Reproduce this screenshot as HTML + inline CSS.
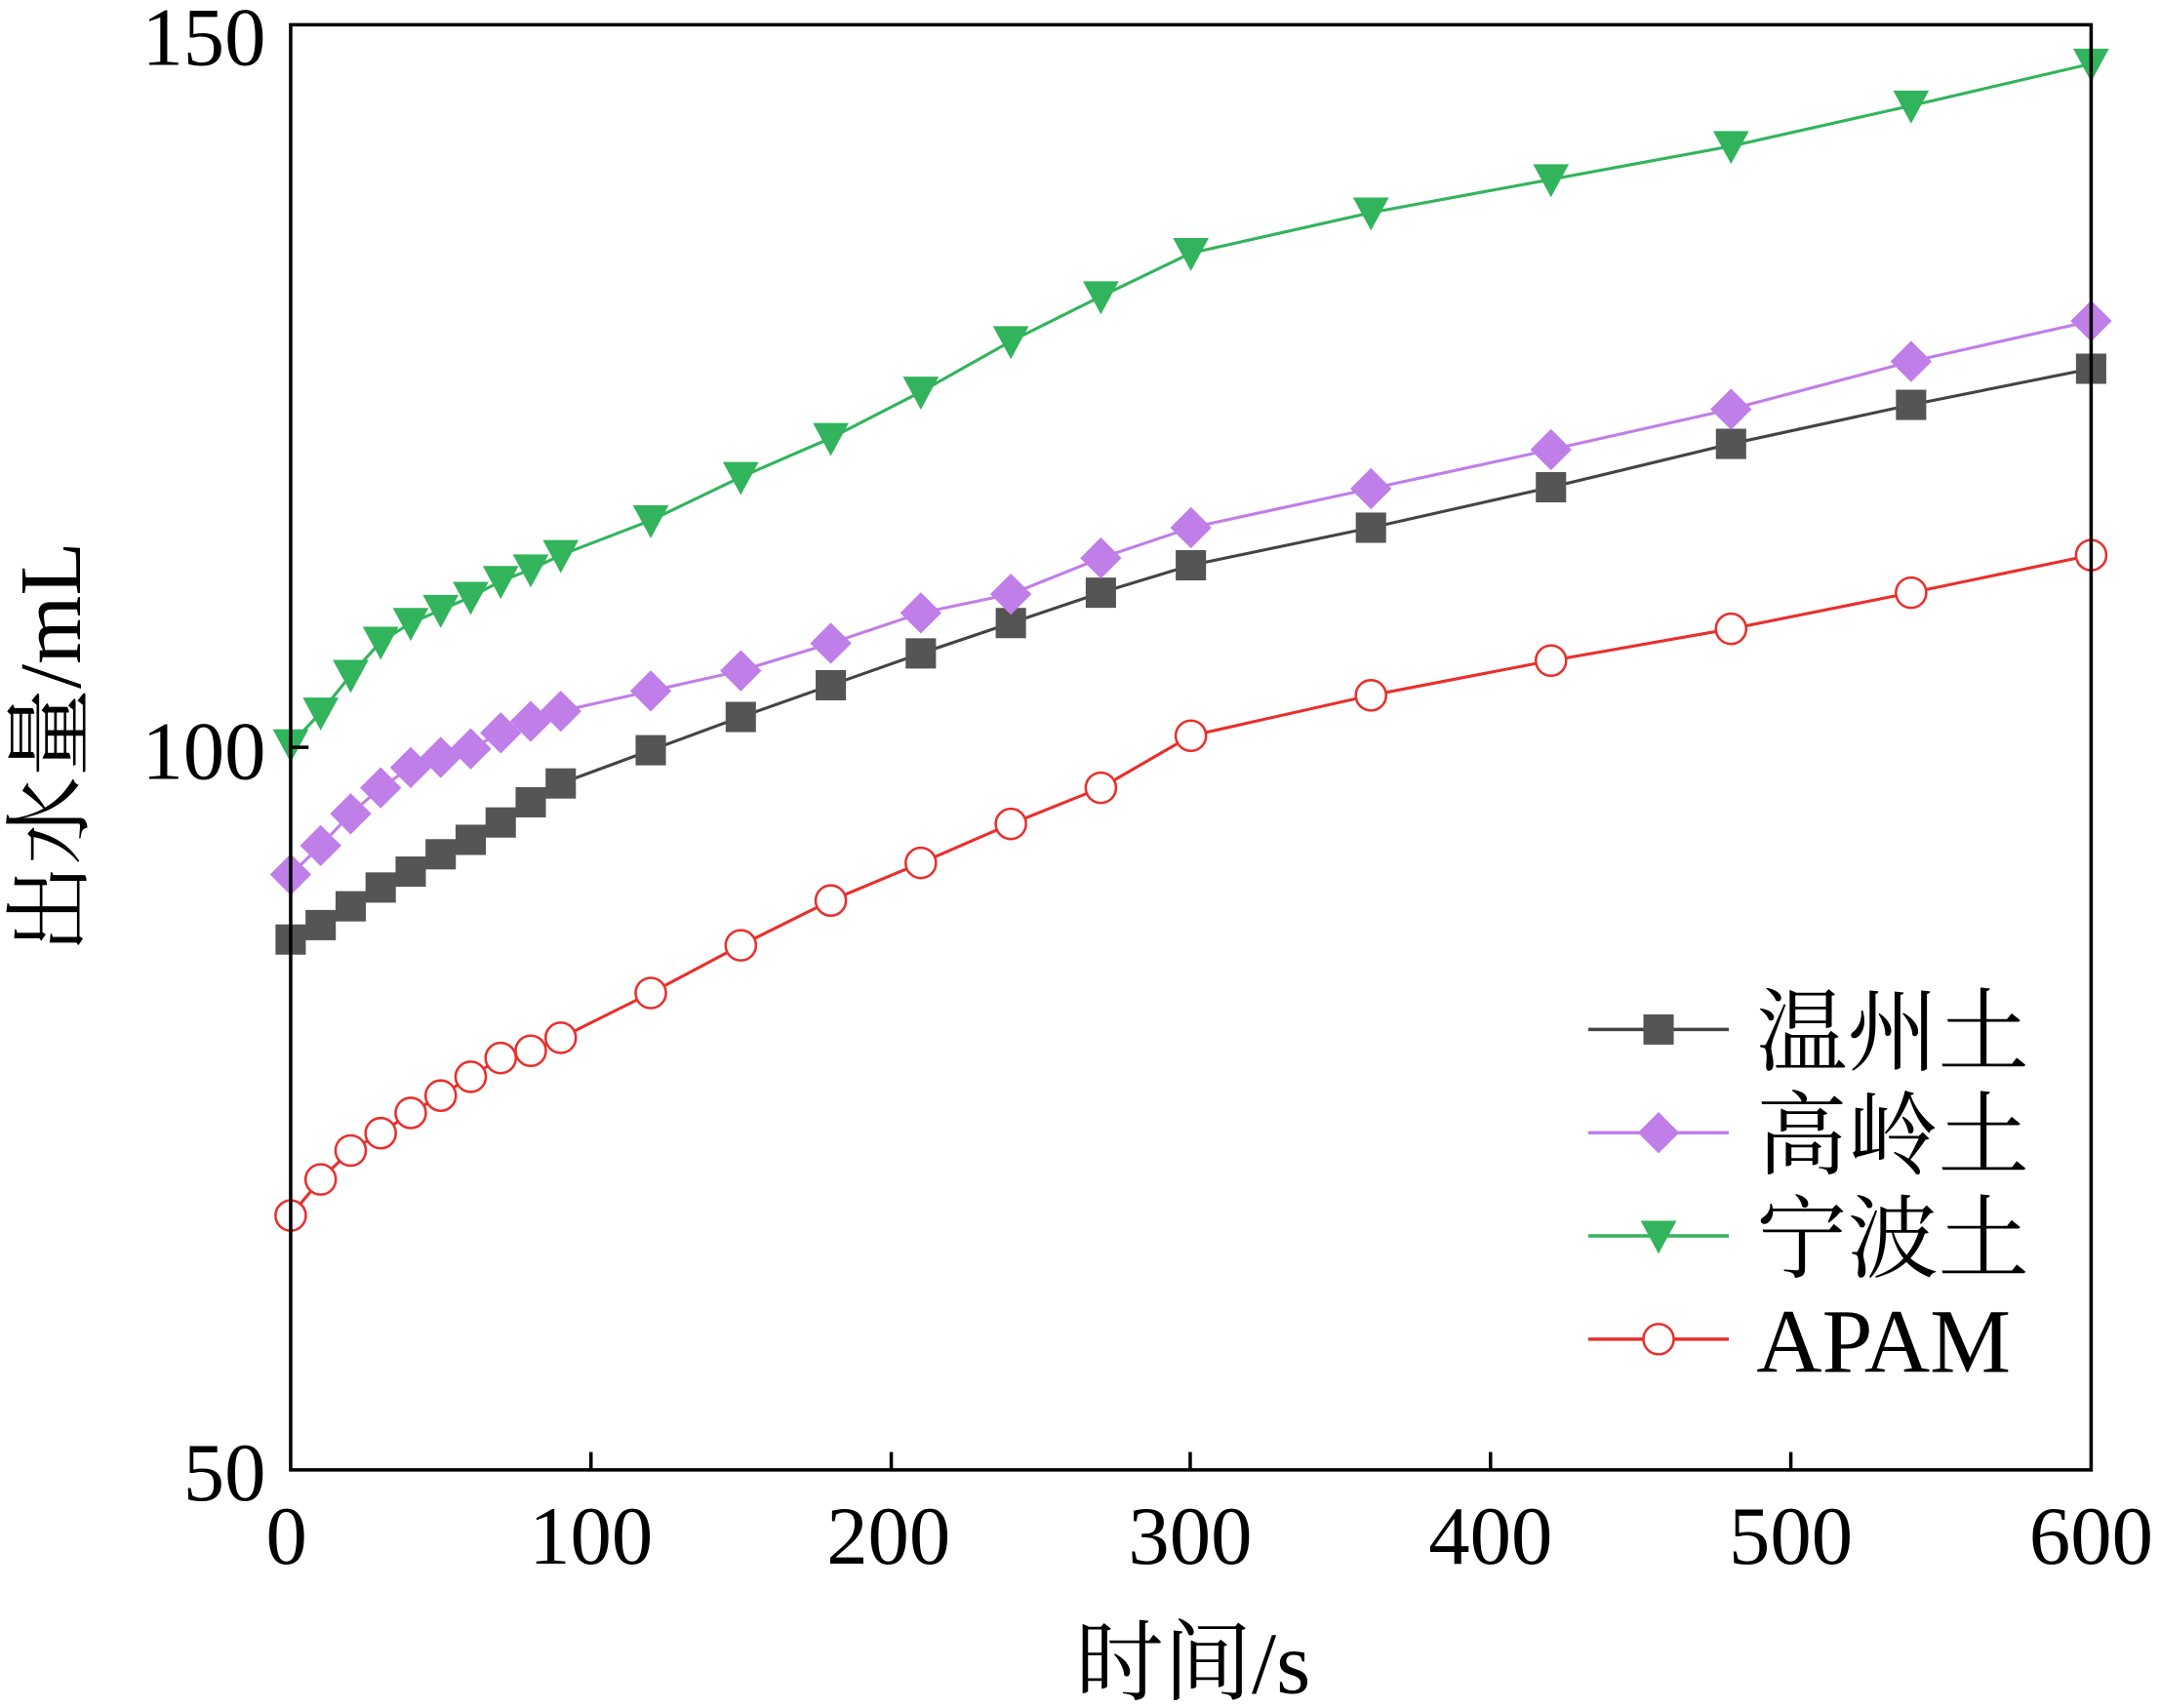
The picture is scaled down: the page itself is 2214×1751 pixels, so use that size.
<!DOCTYPE html>
<html><head><meta charset="utf-8"><style>html,body{margin:0;padding:0;background:#fff}svg{display:block}</style></head>
<body>
<svg id="s" width="2214" height="1751" viewBox="0 0 1568 1241" preserveAspectRatio="none" xmlns="http://www.w3.org/2000/svg" font-family="'Liberation Serif','Noto Serif CJK SC',serif">
<rect width="1568" height="1241" fill="#fff"/>
<g id="data"></g>
<rect x="211" y="18" width="1307" height="1050" fill="none" stroke="#000" stroke-width="2.5"/>
<g stroke="#000" stroke-width="2.5">
<line x1="429" y1="1068" x2="429" y2="1055"/><line x1="647" y1="1068" x2="647" y2="1055"/><line x1="864" y1="1068" x2="864" y2="1055"/><line x1="1082" y1="1068" x2="1082" y2="1055"/><line x1="1300" y1="1068" x2="1300" y2="1055"/>
<line x1="211" y1="543" x2="224" y2="543"/>
</g>
<g font-size="60" fill="#000">
<text x="208" y="1136" text-anchor="middle">0</text>
<text x="429" y="1136" text-anchor="middle">100</text>
<text x="645" y="1136" text-anchor="middle">200</text>
<text x="864" y="1136" text-anchor="middle">300</text>
<text x="1082" y="1136" text-anchor="middle">400</text>
<text x="1300" y="1136" text-anchor="middle">500</text>
<text x="1518" y="1136" text-anchor="middle">600</text>
<text x="193" y="1090" text-anchor="end">50</text>
<text x="193" y="566" text-anchor="end">100</text>
<text x="193" y="47" text-anchor="end">150</text>
<text x="866" y="1230" text-anchor="middle" font-size="64">时间/s</text>
<text transform="translate(58,543) rotate(-90)" text-anchor="middle" font-size="64">出水量/mL</text>
<text x="1275" y="773" font-size="66">温州土</text>
<text x="1275" y="848" font-size="66">高岭土</text>
<text x="1275" y="923" font-size="66">宁波土</text>
<text x="1275" y="997" font-size="66">APAM</text>
</g>
</svg>
<script>
const X=v=>211+v*1307/600, Y=v=>1068-(v-50)*10.5;
const xs=[0,10,20,30,40,50,60,70,80,90,120,150,180,210,240,270,300,360,420,480,540,600];
const S=[
{c:'#444',f:'#555',m:'sq',d:[86.7,87.7,89,90.3,91.4,92.6,93.6,94.8,96.2,97.5,99.8,102.1,104.3,106.5,108.6,110.7,112.6,115.2,118,121,123.7,126.2]},
{c:'#c07ee8',f:'#c07ee8',m:'di',d:[91.2,93.2,95.4,97.2,98.6,99.3,99.9,101,101.8,102.5,103.9,105.3,107.2,109.3,110.6,113.1,115.2,117.9,120.6,123.4,126.7,129.5]},
{c:'#32b45c',f:'#32b45c',m:'tr',d:[100.2,102.4,105,107.3,108.6,109.5,110.4,111.5,112.3,113.3,115.7,118.7,121.4,124.6,128.1,131.2,134.2,137,139.3,141.6,144.4,147.3]},
{c:'#e8302c',f:'#fff',m:'ci',d:[67.6,70.1,72.1,73.3,74.7,75.9,77.2,78.5,79,79.9,83,86.3,89.4,92,94.7,97.2,100.8,103.6,106,108.2,110.7,113.3]}];
function mk(m,x,y,c,f){
 if(m=='sq')return `<rect x="${x-11}" y="${y-11}" width="22" height="22" fill="${f}"/>`;
 if(m=='di')return `<polygon points="${x},${y-15} ${x+15},${y} ${x},${y+15} ${x-15},${y}" fill="${f}"/>`;
 if(m=='tr')return `<polygon points="${x-13},${y-11} ${x+13},${y-11} ${x},${y+13}" fill="${f}"/>`;
 return `<circle cx="${x}" cy="${y}" r="11" fill="#fff" stroke="${c}" stroke-width="1.8"/>`;
}
let h='';
S.forEach((s,i)=>{
 h+=`<polyline fill="none" stroke="${s.c}" stroke-width="2.2" points="${xs.map((x,j)=>X(x)+','+Y(s.d[j])).join(' ')}"/>`;
 xs.forEach((x,j)=>h+=mk(s.m,X(x),Y(s.d[j]),s.c,s.f));
 const ly=748+i*75;
 h+=`<line x1="1153" y1="${ly}" x2="1255" y2="${ly}" stroke="${s.c}" stroke-width="2.5"/>`+mk(s.m,1204,ly,s.c,s.f);
});
document.getElementById('data').innerHTML=h;
</script>
</body></html>
